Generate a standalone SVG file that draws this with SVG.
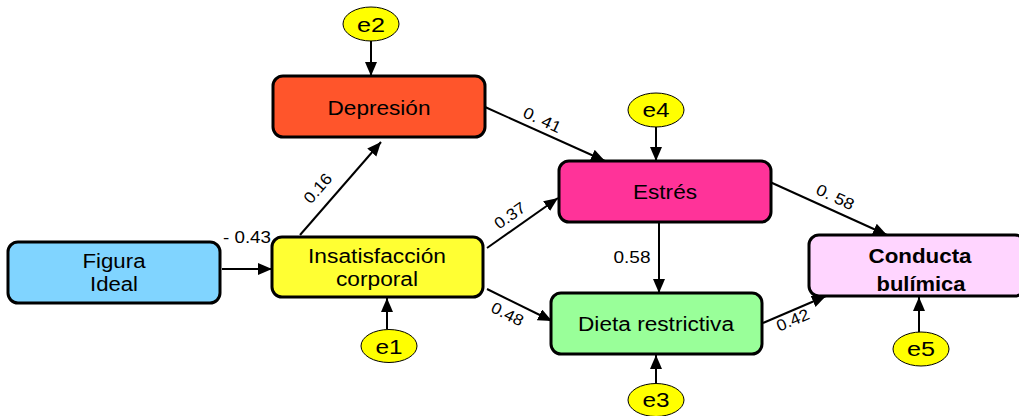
<svg xmlns="http://www.w3.org/2000/svg" width="1019" height="416" viewBox="0 0 1019 416">
  <style>
    .box { stroke: #000; stroke-width: 3; }
    .err { fill: #FFFF00; stroke: #000; stroke-width: 1; }
    .lbl { font-family: "Liberation Sans", Arial, sans-serif; font-size: 20px; fill: #000; text-anchor: middle; }
    .bold { font-weight: bold; }
    .num { font-family: "Liberation Sans", Arial, sans-serif; font-size: 16px; fill: #000; text-anchor: middle; }
    .edge { stroke: #000; stroke-width: 2; fill: none; marker-end: url(#arrow); }
  </style>
  <defs>
    <marker id="arrow" markerUnits="userSpaceOnUse" markerWidth="15" markerHeight="13" refX="14" refY="6" orient="auto">
      <path d="M0,0 L14,6 L0,12 z" fill="#000"/>
    </marker>
  </defs>
  <rect width="1019" height="416" fill="#fff"/>

  <!-- connectors -->
  <g id="connectors">
    <line class="edge" x1="371" y1="41" x2="371" y2="76"/>
    <line class="edge" x1="656" y1="127" x2="656" y2="161"/>
    <line class="edge" x1="387" y1="329" x2="387" y2="298"/>
    <line class="edge" x1="656" y1="383" x2="656" y2="355"/>
    <line class="edge" x1="919" y1="332" x2="919" y2="297"/>
    <line class="edge" x1="222" y1="269" x2="272" y2="269"/>
    <line class="edge" x1="300" y1="235" x2="381" y2="142"/>
    <line class="edge" x1="485" y1="107" x2="605" y2="161"/>
    <line class="edge" x1="487" y1="248" x2="558" y2="198"/>
    <line class="edge" x1="487" y1="289" x2="552" y2="321"/>
    <line class="edge" x1="659" y1="222" x2="659" y2="293"/>
    <line class="edge" x1="770" y1="182" x2="887" y2="235"/>
    <line class="edge" x1="763" y1="323" x2="826" y2="296"/>

    <text class="num" x="247" y="243" textLength="48" lengthAdjust="spacingAndGlyphs">- 0.43</text>
    <text class="num" transform="translate(322,192) rotate(-49)" textLength="34" lengthAdjust="spacingAndGlyphs">0.16</text>
    <text class="num" transform="translate(540,125) rotate(25)" textLength="40" lengthAdjust="spacingAndGlyphs">0. 41</text>
    <text class="num" transform="translate(513,220) rotate(-35)" textLength="34" lengthAdjust="spacingAndGlyphs">0.37</text>
    <text class="num" transform="translate(505,319) rotate(27)" textLength="34" lengthAdjust="spacingAndGlyphs">0.48</text>
    <text class="num" x="632" y="263" textLength="37" lengthAdjust="spacingAndGlyphs">0.58</text>
    <text class="num" transform="translate(833,202) rotate(25)" textLength="40" lengthAdjust="spacingAndGlyphs">0. 58</text>
    <text class="num" transform="translate(795,325) rotate(-23)" textLength="34" lengthAdjust="spacingAndGlyphs">0.42</text>
  </g>

  <!-- variables -->
  <g id="figura-ideal">
    <rect class="box" x="8" y="242" width="212" height="61" rx="10" fill="#80D4FF"/>
    <text class="lbl" x="114" y="268" textLength="63" lengthAdjust="spacingAndGlyphs">Figura</text>
    <text class="lbl" x="114" y="291" textLength="48" lengthAdjust="spacingAndGlyphs">Ideal</text>
  </g>
  <g id="insatisfaccion">
    <rect class="box" x="272" y="237" width="211" height="60" rx="10" fill="#FFFF33"/>
    <text class="lbl" x="377" y="263" textLength="138" lengthAdjust="spacingAndGlyphs">Insatisfacción</text>
    <text class="lbl" x="377" y="286" textLength="82" lengthAdjust="spacingAndGlyphs">corporal</text>
  </g>
  <g id="depresion">
    <rect class="box" x="273" y="76" width="212" height="61" rx="10" fill="#FF552B"/>
    <text class="lbl" x="379" y="115" textLength="103" lengthAdjust="spacingAndGlyphs">Depresión</text>
  </g>
  <g id="estres">
    <rect class="box" x="559" y="161" width="212" height="61" rx="10" fill="#FF3399"/>
    <text class="lbl" x="665" y="199" textLength="64" lengthAdjust="spacingAndGlyphs">Estrés</text>
  </g>
  <g id="dieta">
    <rect class="box" x="551" y="293" width="211" height="61" rx="10" fill="#99FF99"/>
    <text class="lbl" x="656" y="331" textLength="156" lengthAdjust="spacingAndGlyphs">Dieta restrictiva</text>
  </g>
  <g id="conducta">
    <rect class="box" x="809" y="235" width="216" height="61" rx="10" fill="#FFD5FF"/>
    <text class="lbl bold" x="920" y="263" textLength="103" lengthAdjust="spacingAndGlyphs">Conducta</text>
    <text class="lbl bold" x="921" y="291" textLength="89" lengthAdjust="spacingAndGlyphs">bulímica</text>
  </g>

  <!-- residual terms -->
  <g id="e1">
    <ellipse class="err" cx="389" cy="346" rx="28" ry="16.5"/>
    <text class="lbl" x="389" y="354" textLength="27" lengthAdjust="spacingAndGlyphs">e1</text>
  </g>
  <g id="e2">
    <ellipse class="err" cx="371" cy="24" rx="28" ry="17"/>
    <text class="lbl" x="371" y="32" textLength="28" lengthAdjust="spacingAndGlyphs">e2</text>
  </g>
  <g id="e3">
    <ellipse class="err" cx="656" cy="400" rx="28" ry="16.5"/>
    <text class="lbl" x="656" y="407" textLength="27" lengthAdjust="spacingAndGlyphs">e3</text>
  </g>
  <g id="e4">
    <ellipse class="err" cx="656" cy="110" rx="28" ry="17"/>
    <text class="lbl" x="656" y="117" textLength="27" lengthAdjust="spacingAndGlyphs">e4</text>
  </g>
  <g id="e5">
    <ellipse class="err" cx="921" cy="349" rx="28" ry="17"/>
    <text class="lbl" x="921" y="356" textLength="28" lengthAdjust="spacingAndGlyphs">e5</text>
  </g>
</svg>
